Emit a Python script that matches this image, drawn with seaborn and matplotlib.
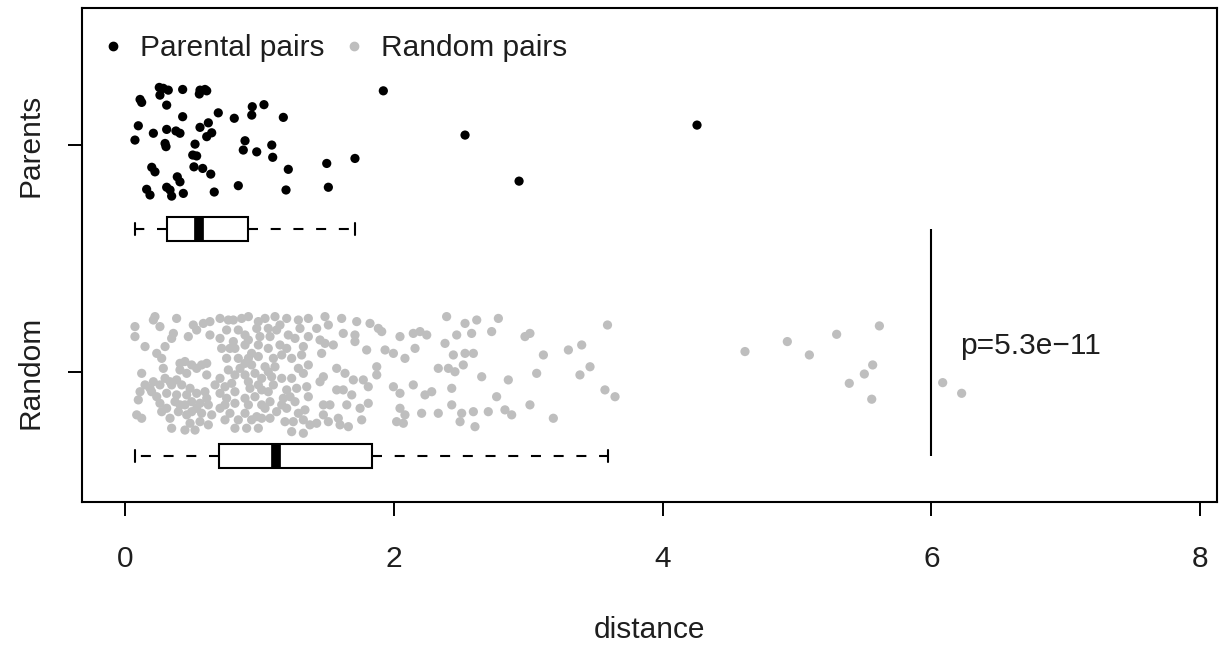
import numpy as np
import pandas as pd
import matplotlib
matplotlib.use("Agg")
import matplotlib.pyplot as plt
from matplotlib.lines import Line2D
import seaborn as sns

# ---------------- data ----------------
categories = ["Parents", "Random"]
legend_labels = ["Parental pairs", "Random pairs"]
x_ticks = [0, 2, 4, 6, 8]
x_label = "distance"
p_label = "p=5.3e\u221211"
p_line_x = 6

parents_distance = [
    0.255, 0.285, 0.322, 0.429, 0.558, 0.595, 0.608, 0.553, 0.260, 0.112,
    0.124, 0.310, 1.922, 0.694, 0.429, 0.813, 0.947, 1.034, 0.943, 1.178,
    0.099, 0.211, 0.310, 0.379, 0.409, 0.558, 0.620, 0.645, 0.608, 0.074,
    0.298, 0.305, 0.521, 0.504, 0.533, 0.893, 0.880, 0.980, 1.092, 1.099,
    0.199, 0.223, 0.513, 0.578, 0.638, 1.215, 1.501, 1.711, 0.389, 0.409,
    0.161, 0.186, 0.310, 0.335, 0.347, 0.434, 0.664, 0.843, 1.198, 1.513,
    2.530, 4.256, 2.932,
]
parents_offset = [
    0.254, 0.250, 0.242, 0.245, 0.242, 0.245, 0.239, 0.225, 0.220, 0.201,
    0.188, 0.176, 0.239, 0.142, 0.125, 0.118, 0.169, 0.178, 0.132, 0.122,
    0.085, 0.052, 0.069, 0.062, 0.052, 0.078, 0.098, 0.054, 0.037, 0.022,
    0.007, -0.007, 0.004, -0.044, -0.048, 0.019, -0.022, -0.030, 0.000, -0.054,
    -0.098, -0.118, -0.096, -0.103, -0.128, -0.107, -0.081, -0.059, -0.140, -0.162,
    -0.195, -0.220, -0.186, -0.198, -0.225, -0.213, -0.207, -0.179, -0.198, -0.186,
    0.044, 0.088, -0.159,
]

random_distance = [
    0.223, 0.211, 0.384, 0.508, 0.074, 0.260, 0.583, 0.632, 0.074, 0.360,
    0.347, 0.471, 0.533, 0.632, 0.149, 0.298, 0.236, 0.273, 0.409, 0.496,
    0.570, 0.459, 0.409, 0.124, 0.285, 0.211, 0.298, 0.347, 0.422, 0.484,
    0.112, 0.198, 0.310, 0.384, 0.595, 0.670, 0.099, 0.260, 0.372, 0.446,
    0.496, 0.558, 0.620, 0.273, 0.397, 0.496, 0.570, 0.645, 0.087, 0.124,
    0.484, 0.558, 0.620, 0.347, 0.446, 0.521,
    0.707, 0.806, 0.918, 0.992, 1.116, 1.203, 1.290, 1.364, 0.756, 0.843,
    0.980, 1.066, 1.128, 0.707, 0.806, 0.918, 1.004, 1.079, 1.215, 1.265,
    1.364, 0.719, 0.818, 0.893, 0.992, 1.153, 1.203, 1.327, 0.992, 1.104,
    1.314, 0.893, 0.856, 0.942, 1.042, 1.116, 0.893, 0.967, 0.918, 1.017,
    1.166, 1.240, 1.327, 0.707, 0.744, 0.818, 0.930, 1.017, 1.104, 1.203,
    1.277, 1.352, 0.707, 0.756, 0.893, 0.967, 1.079, 1.178, 1.228, 1.364,
    0.707, 0.781, 0.893, 0.980, 1.042, 1.128, 1.203, 1.290, 1.339, 0.744,
    0.843, 0.942, 1.017, 0.818, 1.190, 1.252, 1.327, 1.376, 1.327,
    1.488, 1.612, 1.724, 1.823, 1.885, 1.426, 1.513, 1.624, 1.711, 1.910,
    2.046, 1.451, 1.488, 1.711, 1.935, 1.997, 1.798, 1.463, 2.083, 1.575,
    1.637, 1.476, 1.873, 1.873, 1.773, 1.810, 1.575, 1.624, 1.997, 2.046,
    1.687, 1.476, 1.749, 1.810, 2.046, 2.083, 1.476, 1.513, 1.587, 1.662,
    1.761, 2.021, 2.071,
    2.393, 2.530, 2.617, 2.778, 2.145, 2.195, 2.245, 2.468, 2.579, 2.728,
    2.381, 2.158, 2.443, 2.530, 2.592, 2.331, 2.406, 2.455, 2.517, 2.654,
    2.852, 2.145, 2.431, 2.232, 2.282, 2.765, 2.207, 2.331, 2.431, 2.505,
    2.592, 2.703, 2.827, 2.877, 2.493, 2.604,
    2.976, 3.013, 3.113, 3.299, 3.398, 3.590, 3.063, 3.385, 3.460, 3.571,
    3.646, 3.013, 3.187,
    4.613, 4.928, 5.092, 5.295, 5.613, 5.563, 5.501, 5.389, 5.556, 6.084,
    6.225,
    0.446, 0.533, 0.608, 0.335, 0.384, 0.260, 0.459, 0.533, 0.409, 0.310,
    0.533, 0.459, 0.608, 0.186, 0.236, 0.608, 0.149, 0.335,
    0.843, 0.918, 1.066, 0.818, 0.992, 1.066, 0.769, 0.756, 0.893, 1.066,
    0.744, 0.818, 0.918, 1.017, 0.769, 0.868, 1.042, 1.079, 0.905, 0.992,
    0.794, 1.091, 0.942, 0.781,
    1.166, 1.240, 1.290, 1.364, 1.166, 1.265, 1.240, 1.153, 1.302, 1.451,
    1.525, 1.650, 1.550, 1.600, 1.699, 1.426,
]
random_offset = [
    0.244, 0.229, 0.236, 0.207, 0.200, 0.200, 0.214, 0.222, 0.156, 0.170,
    0.148, 0.156, 0.185, 0.163, 0.112, 0.112, 0.082, 0.060, 0.038, 0.031,
    0.031, -0.006, 0.009, -0.006, 0.016, -0.043, -0.028, -0.057, -0.057, -0.072,
    -0.087, -0.087, -0.094, -0.101, -0.087, -0.057, -0.123, -0.138, -0.131, -0.145,
    -0.131, -0.138, -0.145, -0.175, -0.175, -0.175, -0.182, -0.189, -0.189, -0.204,
    -0.226, -0.219, -0.233, -0.248, -0.256, -0.256,
    0.236, 0.229, 0.244, 0.222, 0.244, 0.236, 0.229, 0.236, 0.185, 0.185,
    0.192, 0.192, 0.185, 0.148, 0.134, 0.141, 0.156, 0.156, 0.163, 0.148,
    0.156, 0.104, 0.104, 0.119, 0.119, 0.119, 0.104, 0.112, 0.068, 0.060,
    0.075, 0.038, 0.016, 0.031, 0.023, 0.023, -0.013, -0.006, -0.043, -0.028,
    -0.028, -0.028, -0.006, -0.028, -0.065, -0.087, -0.072, -0.079, -0.057, -0.079,
    -0.072, -0.065, -0.094, -0.116, -0.116, -0.109, -0.131, -0.116, -0.109, -0.109,
    -0.160, -0.182, -0.182, -0.197, -0.160, -0.175, -0.160, -0.182, -0.167, -0.211,
    -0.211, -0.211, -0.204, -0.248, -0.219, -0.219, -0.211, -0.233, -0.270,
    0.244, 0.236, 0.222, 0.214, 0.192, 0.192, 0.207, 0.170, 0.163, 0.178,
    0.156, 0.141, 0.126, 0.134, 0.097, 0.082, 0.097, 0.082, 0.060, 0.016,
    -0.006, -0.021, 0.023, -0.013, -0.035, -0.065, -0.079, -0.079, -0.065, -0.094,
    -0.101, -0.145, -0.160, -0.138, -0.160, -0.189, -0.189, -0.219, -0.204, -0.241,
    -0.211, -0.219, -0.226,
    0.244, 0.214, 0.229, 0.236, 0.170, 0.178, 0.163, 0.163, 0.170, 0.178,
    0.126, 0.104, 0.075, 0.082, 0.082, 0.016, 0.016, 0.001, 0.031, -0.021,
    -0.035, -0.057, -0.072, -0.101, -0.087, -0.109, -0.182, -0.182, -0.145, -0.182,
    -0.175, -0.175, -0.167, -0.189, -0.219, -0.241,
    0.156, 0.170, 0.075, 0.097, 0.119, 0.207, -0.006, -0.013, 0.023, -0.079,
    -0.109, -0.145, -0.204,
    0.090, 0.134, 0.075, 0.166, 0.203, 0.031, -0.009, -0.050, -0.120, -0.047,
    -0.094,
    0.046, 0.016, 0.038, -0.043, -0.035, -0.057, -0.101, -0.094, -0.145, -0.160,
    -0.160, -0.189, -0.116, -0.072, -0.109, -0.013, -0.057, -0.204,
    0.060, 0.060, 0.001, -0.013, -0.057, -0.087, 0.009, 0.060, 0.163, 0.104,
    -0.145, -0.138, -0.145, -0.145, 0.229, 0.236, 0.236, -0.204, -0.248, -0.248,
    -0.050, -0.021, 0.082, 0.104,
    0.075, 0.060, 0.016, 0.031, -0.145, -0.131, -0.263, 0.207, 0.192, -0.043,
    -0.145, -0.145, 0.119, -0.233, -0.035, -0.226,
]

# ---------------- layout / style ----------------
W, H = 1229, 647
level = {"Parents": 2.0, "Random": 1.0}
box_shift = -0.37
black = "#000000"
grey = "#bebebe"
txt = "#1e1e1e"
fs = 21.5

sns.set_theme(style="ticks")
plt.rcParams["font.family"] = ["Liberation Sans", "DejaVu Sans"]

pts = pd.DataFrame({
    "distance": parents_distance + random_distance,
    "ypos": [level["Parents"] + o for o in parents_offset]
            + [level["Random"] + o for o in random_offset],
    "group": [legend_labels[0]] * len(parents_distance)
             + [legend_labels[1]] * len(random_distance),
})
boxes = pd.DataFrame({
    "distance": parents_distance + random_distance,
    "pos": [level["Parents"] + box_shift] * len(parents_distance)
           + [level["Random"] + box_shift] * len(random_distance),
})

fig = plt.figure(figsize=(W / 100, H / 100), dpi=100)
ax = fig.add_axes([82 / W, 1 - 502 / H, (1217 - 82) / W, (502 - 8) / H])

sns.scatterplot(data=pts, x="distance", y="ypos", hue="group",
                palette={legend_labels[0]: black, legend_labels[1]: grey},
                s=44, linewidth=0, legend=False, ax=ax, zorder=3)

sns.boxplot(data=boxes, x="distance", y="pos", orient="h", native_scale=True,
            width=0.103, color="white", linecolor="black", linewidth=1.5,
            showfliers=False, whis=1.55, ax=ax,
            whiskerprops={"linestyle": (0, (4.8, 6.1))},
            medianprops={"linewidth": 7, "color": "black", "solid_capstyle": "butt"})

ax.vlines(p_line_x, level["Random"] + box_shift, level["Parents"] + box_shift,
          color="black", linewidth=1.5)
ax.text(6.21, 1.115, p_label, fontsize=fs, color=txt, ha="left", va="center")

ax.set_xlim(-0.32, 8.125)
ax.set_ylim(0.427, 2.604)
ax.set_xticks(x_ticks)
ax.set_xticklabels([str(t) for t in x_ticks])
ax.set_yticks([level[c] for c in categories])
ax.set_yticklabels(categories, rotation=90, va="center")
ax.tick_params(axis="both", length=10, width=1.4, color="black",
               labelsize=fs, labelcolor=txt, direction="out")
ax.tick_params(axis="x", pad=21)
ax.tick_params(axis="y", pad=17)
ax.set_xlabel(x_label, fontsize=fs, color=txt, labelpad=31)
ax.set_ylabel("")
for sp in ax.spines.values():
    sp.set_visible(True)
    sp.set_linewidth(1.5)
    sp.set_color("black")
ax.grid(False)

handles = [Line2D([], [], marker="o", linestyle="", color=black, markersize=6),
           Line2D([], [], marker="o", linestyle="", color=grey, markersize=6)]
ax.legend(handles, legend_labels, loc="center left",
          bbox_to_anchor=(98 / W, 1 - 48 / H), bbox_transform=fig.transFigure,
          ncol=2, frameon=False, fontsize=fs, handlelength=1.0,
          handletextpad=0.4, columnspacing=0.5, borderpad=0, borderaxespad=0,
          labelcolor=txt)

fig.savefig("out.png", dpi=100)
